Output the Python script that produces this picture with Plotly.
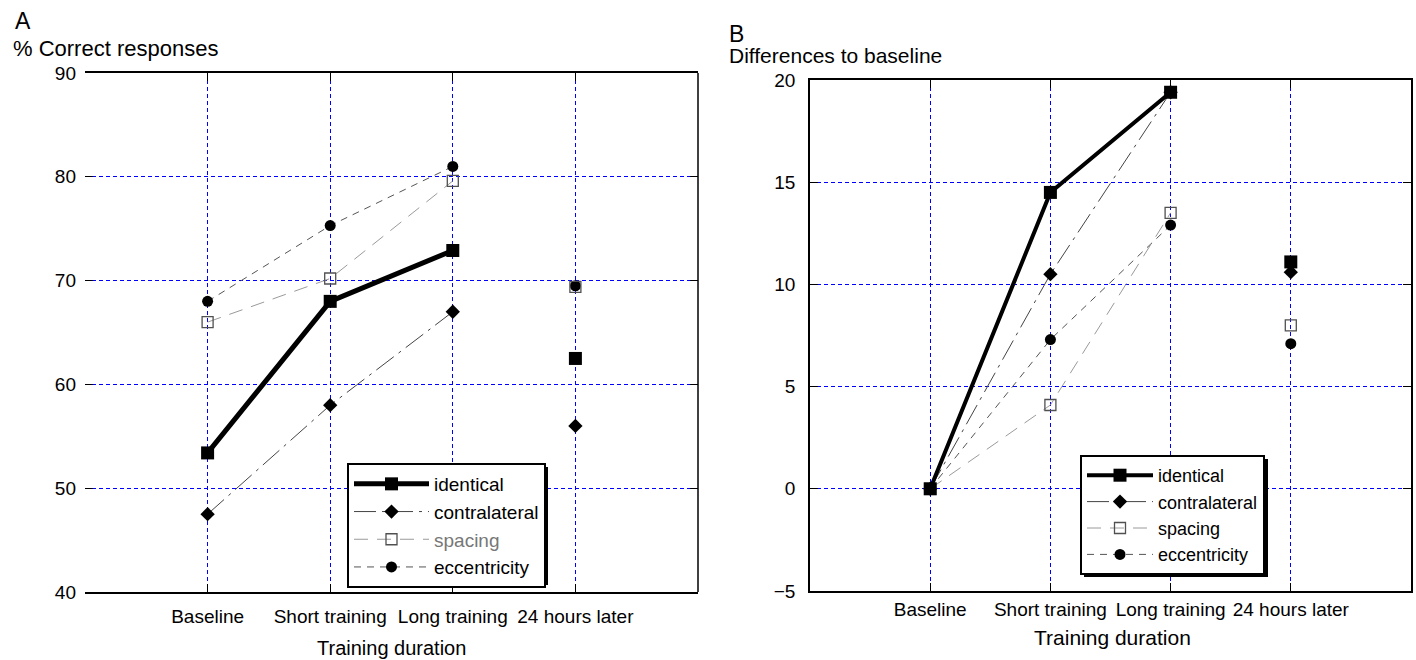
import plotly.graph_objects as go

# ---------------- data ----------------
categories = ["Baseline", "Short training", "Long training", "24 hours later"]
cat_pos = [1, 2, 3, 4]

identical_a = [53.4, 68.0, 72.9, 62.5]
contra_a = [47.5, 58.0, 67.0, 56.0]
spacing_a = [66.0, 70.2, 79.6, 69.4]
ecc_a = [68.0, 75.3, 81.0, 69.5]

identical_b = [0.0, 14.5, 19.4, 11.1]
contra_b = [0.0, 10.5, 19.4, 10.6]
spacing_b = [0.0, 4.1, 13.5, 8.0]
ecc_b = [0.0, 7.3, 12.9, 7.1]

FONT = "Liberation Sans, Arial, Helvetica, sans-serif"
BLUE = "#0000ff"
W, H = 1416, 660

fig = go.Figure()

styles = {
    "identical": dict(line=dict(color="black", width=5, dash="solid"),
                      marker=dict(symbol="square", size=13, color="black"), rank=1),
    "contralateral": dict(line=dict(color="#444444", width=1, dash="22px,6px,3px,6px"),
                          marker=dict(symbol="diamond", size=11, color="black"), rank=2),
    "spacing": dict(line=dict(color="#9a9a9a", width=1, dash="14px,9px"),
                    marker=dict(symbol="square-open", size=11, color="#505050", line=dict(width=1.3, color="#505050")), rank=3),
    "eccentricity": dict(line=dict(color="#555555", width=1, dash="7px,6px"),
                         marker=dict(symbol="circle", size=11, color="black"), rank=4),
}

def add_series(name, vals, xa, ya, legend, label, lw=None):
    st = styles[name]
    line = dict(st["line"])
    if lw is not None:
        line["width"] = lw
    fig.add_trace(go.Scatter(
        x=cat_pos[:3], y=vals[:3], mode="lines+markers", name=label,
        line=line, marker=st["marker"], xaxis=xa, yaxis=ya, legend=legend,
        legendrank=st["rank"], showlegend=True))
    fig.add_trace(go.Scatter(
        x=cat_pos[3:], y=vals[3:], mode="markers", name=label,
        marker=st["marker"], xaxis=xa, yaxis=ya, showlegend=False))

# panel A (draw order: eccentricity, spacing, contralateral, identical)
add_series("eccentricity", ecc_a, "x", "y", "legend", "eccentricity")
add_series("spacing", spacing_a, "x", "y", "legend", '<span style="color:#777777">spacing</span>')
add_series("contralateral", contra_a, "x", "y", "legend", "contralateral")
add_series("identical", identical_a, "x", "y", "legend", "identical")

# panel B
add_series("eccentricity", ecc_b, "x2", "y2", "legend2", "eccentricity")
add_series("spacing", spacing_b, "x2", "y2", "legend2", "spacing")
add_series("contralateral", contra_b, "x2", "y2", "legend2", "contralateral")
add_series("identical", identical_b, "x2", "y2", "legend2", "identical", lw=4)

axis_common = dict(
    showgrid=True, gridcolor=BLUE, gridwidth=1, griddash="4px,3px",
    ticks="inside", ticklen=8, tickcolor="black", tickwidth=1,
    zeroline=False, automargin=False,
    tickfont=dict(family=FONT, size=19, color="black"),
)

fig.update_layout(
    width=W, height=H,
    margin=dict(l=0, r=0, t=0, b=0, pad=0, autoexpand=False),
    paper_bgcolor="white", plot_bgcolor="white",
    font=dict(family=FONT, color="black"),
    xaxis=dict(domain=[85 / W, 698 / W], range=[0, 5],
               tickvals=[0] + cat_pos, ticktext=[""] + categories,
               showline=True, linecolor="black", linewidth=1.5, mirror="ticks",
               ticklabelstandoff=6, **axis_common),
    yaxis=dict(domain=[1 - 592 / H, 1 - 73 / H], range=[40, 90], dtick=10,
               showline=False, mirror="ticks", ticklabelstandoff=8, **axis_common),
    xaxis2=dict(domain=[810 / W, 1411 / W], range=[0, 5], anchor="y2",
                tickvals=cat_pos, ticktext=categories,
                showline=True, linecolor="black", linewidth=1.5, mirror="ticks",
                ticklabelstandoff=0, **axis_common),
    yaxis2=dict(domain=[1 - 591 / H, 1 - 80 / H], range=[-5, 20], dtick=5, anchor="x2",
                showline=True, linecolor="black", linewidth=1.5, mirror="ticks",
                ticklabelstandoff=9, **axis_common),
    legend=dict(x=347 / W, y=1 - 463 / H, xanchor="left", yanchor="top",
                bgcolor="white", bordercolor="black", borderwidth=2,
                font=dict(family=FONT, size=19, color="black"),
                itemwidth=75, tracegroupgap=0),
    legend2=dict(x=1080 / W, y=1 - 455 / H, xanchor="left", yanchor="top",
                 bgcolor="white", bordercolor="black", borderwidth=2,
                 font=dict(family=FONT, size=18, color="black"),
                 itemwidth=66, tracegroupgap=0),
)

# right border of panel A
fig.add_shape(type="line", xref="x domain", yref="y domain", x0=1, x1=1, y0=0, y1=1,
              line=dict(color="black", width=1.5))

# legend drop shadows
for (x0, y0, x1, y1) in [(351, 467, 548, 585), (1084, 459, 1268, 577)]:
    fig.add_shape(type="rect", xref="paper", yref="paper",
                  x0=x0 / W, x1=x1 / W, y0=1 - y1 / H, y1=1 - y0 / H,
                  fillcolor="black", line=dict(width=0), layer="above")

ann = [
    dict(text="A", x=13 / W, y=1 - 21 / H, size=23),
    dict(text="% Correct responses", x=11 / W, y=1 - 48 / H, size=22),
    dict(text="B", x=727 / W, y=1 - 34 / H, size=23),
    dict(text="Differences to baseline", x=727 / W, y=1 - 56 / H, size=21),
]
for a in ann:
    fig.add_annotation(text=a["text"], x=a["x"], y=a["y"], xref="paper", yref="paper",
                       xanchor="left", yanchor="middle", showarrow=False,
                       font=dict(family=FONT, size=a["size"], color="black"))

fig.add_annotation(text="Training duration", x=391 / W, y=1 - 648 / H, xref="paper", yref="paper",
                   xanchor="center", yanchor="middle", showarrow=False,
                   font=dict(family=FONT, size=20, color="black"))
fig.add_annotation(text="Training duration", x=1112 / W, y=1 - 637 / H, xref="paper", yref="paper",
                   xanchor="center", yanchor="middle", showarrow=False,
                   font=dict(family=FONT, size=21, color="black"))

fig.write_html("out.html", config={"displayModeBar": False},
               post_script="document.body.style.margin='0px';document.body.style.overflow='hidden';")
